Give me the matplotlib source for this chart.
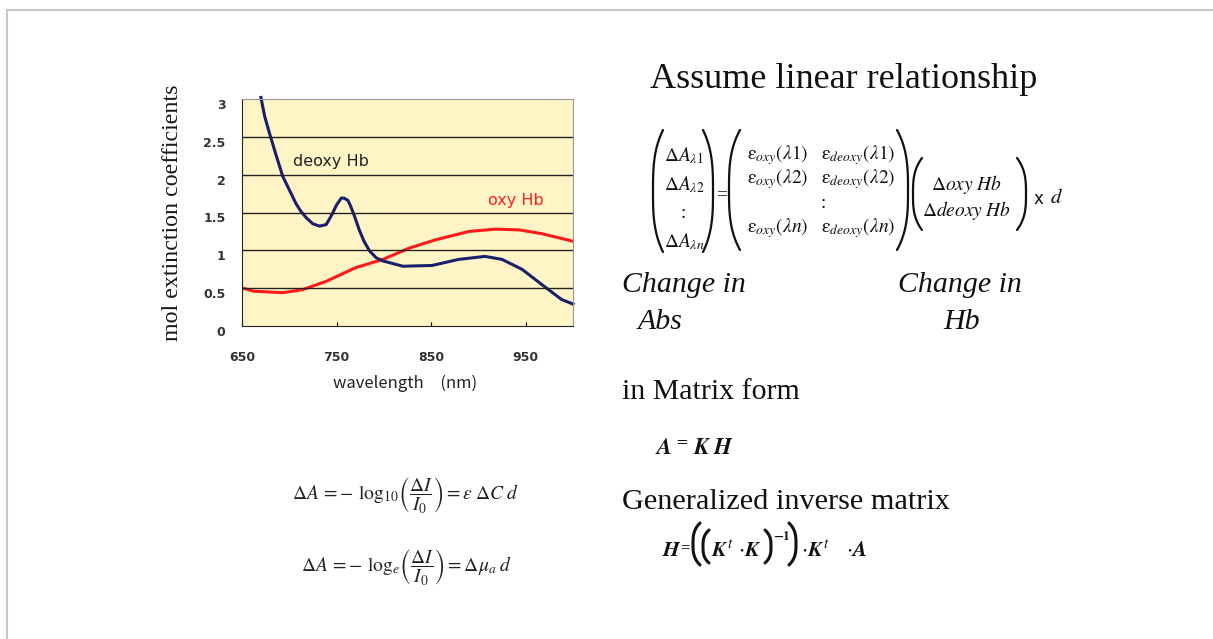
import numpy as np
import matplotlib
matplotlib.use("Agg")
import matplotlib.pyplot as plt

plt.rcParams['mathtext.fontset'] = 'stix'

# spectra
deoxy_nm = [670, 674, 679, 686, 693, 700, 707, 712, 718, 725, 732, 739, 745, 750, 755, 758, 762, 765, 769, 774,
            779, 785, 792, 799, 820, 851, 879, 907, 925, 946, 971, 988, 1000]
deoxy_val = [3.02, 2.77, 2.55, 2.26, 1.98, 1.80, 1.62, 1.52, 1.43, 1.35, 1.32, 1.34, 1.47, 1.60, 1.69, 1.69, 1.66,
             1.58, 1.45, 1.27, 1.12, 0.99, 0.90, 0.86, 0.79, 0.80, 0.88, 0.92, 0.88, 0.75, 0.51, 0.35, 0.29]
oxy_nm = [650, 662, 693, 714, 739, 770, 799, 827, 855, 890, 918, 943, 967, 1000]
oxy_val = [0.505, 0.46, 0.44, 0.48, 0.59, 0.77, 0.88, 1.03, 1.14, 1.25, 1.28, 1.27, 1.22, 1.12]
y_ticks = [0, 0.5, 1, 1.5, 2, 2.5, 3]
y_tick_labels = ['0', '0.5', '1', '1.5', '2', '2.5', '3']
x_ticks = [650, 750, 850, 950]

W, H = 1213, 639
fig = plt.figure(figsize=(W / 100, H / 100), dpi=100)
fig.patch.set_facecolor('white')

# overlay in pixel coordinates for the slide text
ov = fig.add_axes([0, 0, 1, 1])
ov.set_xlim(0, W)
ov.set_ylim(H, 0)
ov.axis('off')
ov.plot([7, W], [10, 10], color='#c8c8c8', lw=1.5)
ov.plot([7, 7], [10, H], color='#c8c8c8', lw=1.5)

# chart
ax = fig.add_axes([242 / W, (H - 326) / H, 331 / W, 227 / H])
ax.set_facecolor('#fff4c6')
ax.plot(oxy_nm, oxy_val, color='#ff1a1a', lw=2.2)
ax.plot(deoxy_nm, deoxy_val, color='#1a1f6b', lw=2.2, clip_on=False)
ax.set_xlim(650, 1000)
ax.set_ylim(0, 3)
ax.set_yticks(y_ticks)
ax.set_yticklabels(y_tick_labels)
ax.set_xticks(x_ticks)
for v in y_ticks[1:-1]:
    ax.axhline(v, color='#222222', lw=1)
ax.tick_params(axis='y', length=0, pad=12, labelsize=9, labelcolor='#333333')
ax.tick_params(axis='x', direction='in', length=3, pad=18, labelsize=9, labelcolor='#333333')
for lab in ax.get_xticklabels() + ax.get_yticklabels():
    lab.set_fontweight('bold')
for lab in ax.get_yticklabels():
    lab.set_verticalalignment('top')
ax.spines['left'].set_color('#222222')
ax.spines['bottom'].set_color('#222222')
ax.spines['top'].set_color('#999999')
ax.spines['right'].set_color('#999999')
ax.text(704, 2.17, 'deoxy Hb', fontsize=11.5, color='#222222', va='center')
ax.text(910, 1.665, 'oxy Hb', fontsize=11.5, color='#ff2020', va='center')

ov.text(405, 383, 'wavelength\u3000(nm)', fontsize=12, ha='center', va='center',
        family=['Noto Sans CJK JP', 'DejaVu Sans'], color='#222222')
ov.text(172, 213, 'mol extinction coefficients', fontsize=17.3, ha='center', va='center',
        rotation=90, family='Liberation Serif', color='#1a1a1a')

serif = 'Liberation Serif'


def paren(x0, y0, y1, w, side, lw=1.6):
    t = np.linspace(0, 1, 60)
    bulge = w * (1 - np.abs(2 * t - 1) ** 3)
    xs = x0 - bulge if side == 'l' else x0 + bulge
    ov.plot(xs, y0 + (y1 - y0) * t, color='#111111', lw=lw, solid_capstyle='round')


# left equations
ov.text(405, 495, r'$\Delta A\,=\!-\,\log_{10}\!\left(\dfrac{\Delta I}{I_0}\right)=\varepsilon\;\Delta C\;d$',
        fontsize=14, ha='center', va='center', color='#222222')
ov.text(407, 567, r'$\Delta A\,=\!-\,\log_{e}\!\left(\dfrac{\Delta I}{I_0}\right)=\Delta\mu_a\;d$',
        fontsize=14, ha='center', va='center', color='#222222')

# right side text
ov.text(650, 80, 'Assume linear relationship', fontsize=26, family=serif, va='center', color='#111111')

paren(663, 130, 252, 10, 'l')
paren(703, 130, 252, 10, 'r')
paren(740, 130, 250, 11, 'l')
paren(897, 130, 250, 11, 'r')
paren(922, 158, 230, 9, 'l')
paren(1017, 158, 230, 9, 'r')

mfs = 14
for ypos, sub in [(156, r'\lambda 1'), (185, r'\lambda 2'), (242, r'\lambda n')]:
    ov.text(684, ypos, r'$\Delta A_{%s}$' % sub, fontsize=mfs, ha='center', va='center', color='#111111')
ov.text(683, 213, ':', fontsize=mfs, family=serif, ha='center', va='center', color='#111111')
ov.text(722, 195, '=', fontsize=mfs, family=serif, ha='center', va='center', color='#111111')
for ypos, lam in [(155, '1'), (179, '2'), (228, r'\mathit{n}')]:
    ov.text(778, ypos, r'$\mathrm{\varepsilon}_{oxy}(\lambda %s)$' % lam,
            fontsize=mfs, ha='center', va='center', color='#111111')
    ov.text(858, ypos, r'$\mathrm{\varepsilon}_{deoxy}(\lambda %s)$' % lam,
            fontsize=mfs, ha='center', va='center', color='#111111')
ov.text(823, 203, ':', fontsize=mfs, family=serif, ha='center', va='center', color='#111111')
ov.text(966, 184, r'$\Delta oxy\;Hb$', fontsize=mfs, ha='center', va='center', color='#111111')
ov.text(966, 211, r'$\Delta deoxy\;Hb$', fontsize=mfs, ha='center', va='center', color='#111111')
ov.text(1034, 199, 'x', fontsize=12, ha='left', va='center', color='#111111')
ov.text(1050, 197, r'$d$', fontsize=15, ha='left', va='center', color='#111111')

ov.text(622, 285, 'Change in', fontsize=21.5, family=serif, style='italic', va='center', color='#111111')
ov.text(660, 322, 'Abs', fontsize=21.5, family=serif, style='italic', ha='center', va='center', color='#111111')
ov.text(898, 285, 'Change in', fontsize=21.5, family=serif, style='italic', va='center', color='#111111')
ov.text(962, 322, 'Hb', fontsize=21.5, family=serif, style='italic', ha='center', va='center', color='#111111')

ov.text(622, 392, 'in Matrix form', fontsize=21.5, family=serif, va='center', color='#111111')
ov.text(655, 447, r'$\mathbfit{A}^{\,=}\,\mathbfit{K\;H}$', fontsize=16.5, va='center', color='#111111')
ov.text(622, 502, 'Generalized inverse matrix', fontsize=21.8, family=serif, va='center', color='#111111')

# H = ((K^t . K)^-1) . K^t . A  with tall brackets
efs = 15.5
ey = 550
ov.text(662, ey, r'$\mathbfit{H}$', fontsize=efs, va='center', color='#111111')
ov.text(680, ey - 2, '=', fontsize=12, family=serif, fontweight='bold', va='center', color='#111111')
paren(700, 523, 565, 7, 'l', lw=2.2)
paren(709, 530, 563, 6, 'l', lw=2.2)
ov.text(711, ey, r'$\mathbfit{K}^{\,t}$', fontsize=efs, va='center', color='#111111')
ov.text(738, ey, r'$\cdot\mathbfit{K}$', fontsize=efs, va='center', color='#111111')
paren(765, 530, 563, 6, 'r', lw=2.2)
ov.text(773, 537, r'$\mathbf{-1}$', fontsize=9.5, va='center', color='#111111')
paren(789, 523, 565, 7, 'r', lw=2.2)
ov.text(801, ey, r'$\cdot\mathbfit{K}^{\,t}$', fontsize=efs, va='center', color='#111111')
ov.text(846, ey, r'$\cdot\mathbfit{A}$', fontsize=efs, va='center', color='#111111')

fig.savefig('out.png', dpi=100, facecolor='white')
